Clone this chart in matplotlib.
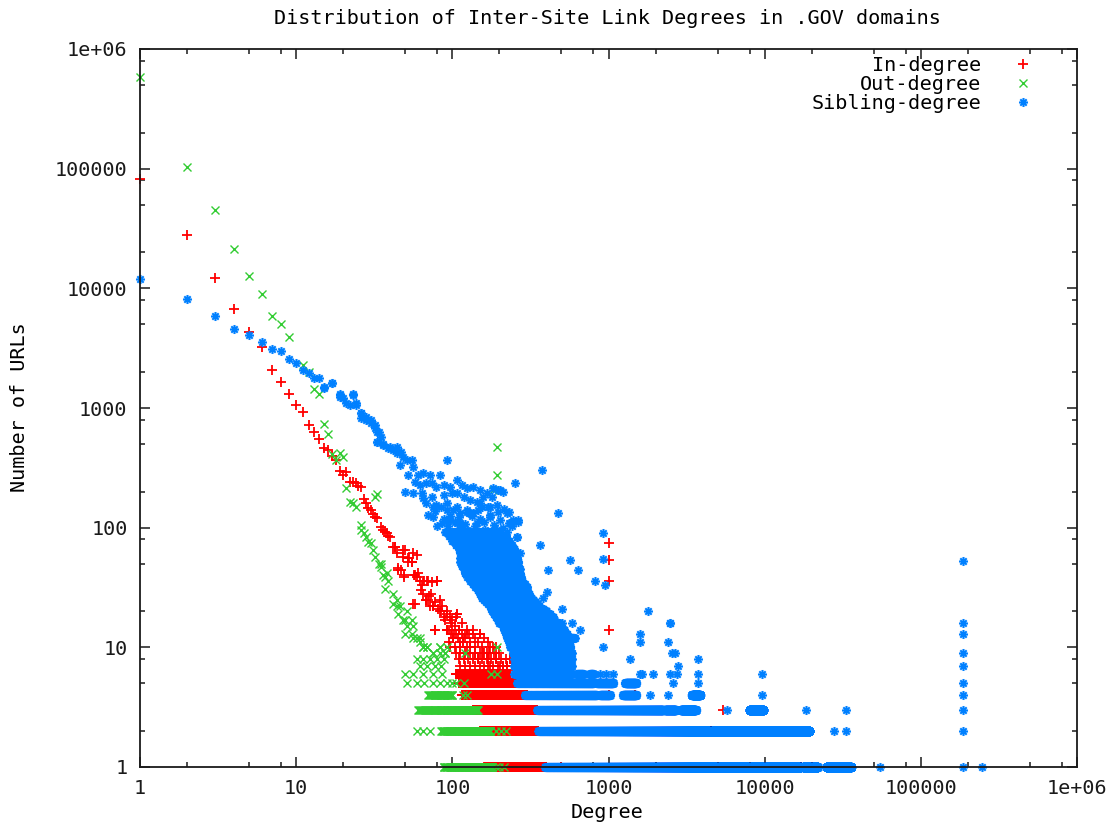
import numpy as np
import matplotlib
matplotlib.use("Agg")
import matplotlib.pyplot as plt
from matplotlib.ticker import LogLocator, NullFormatter
from matplotlib.path import Path

# ---------------- data (degree, number of URLs) ----------------
title = "Distribution of Inter-Site Link Degrees in .GOV domains"
tick_values = [1, 10, 100, 1000, 10000, 100000, 1000000]
tick_labels = ["1", "10", "100", "1000", "10000", "100000", "1e+06"]

# In-degree: individual points
in_deg = [1, 2, 3, 4, 5, 6, 7, 8, 9, 10, 11, 12, 13, 14, 15, 16, 17, 18, 19, 20,
          21, 22, 23, 24, 25, 26, 27, 28, 29, 30, 31, 32, 33, 35, 36, 37, 38, 39, 40,
          42, 43, 44, 45, 47, 48, 49, 50, 52, 53, 55, 56, 57, 58, 59, 60, 62, 65, 66,
          68, 69, 70, 72, 74, 75, 77, 78, 80, 83, 85, 88, 92, 95, 97, 99, 101, 102,
          105, 107, 110, 112, 115, 117, 120, 124, 130, 136, 140, 145, 150, 158, 166,
          170, 175, 183, 190, 202, 212, 223, 234, 245,
          43, 48, 52, 55, 59, 45, 49, 58, 65, 70, 80, 56, 68, 75, 83, 92, 107, 77,
          92, 101, 117, 130, 150, 63, 71, 86, 90, 98, 64, 73, 81, 96, 104,
          1000, 1000, 1000, 1000, 1000, 1480, 4560, 5400, 500, 17000]
in_cnt = [82000, 28000, 12200, 6700, 4300, 3250, 2070, 1650, 1300, 1060, 930, 720, 630,
          550, 460, 445, 395, 367, 300, 275,
          290, 240, 240, 235, 225, 220, 175, 160, 145, 140, 130, 123, 120, 102, 95, 92, 90, 86, 84,
          69, 69, 61, 46, 44, 57, 40, 65, 52, 56, 52, 61, 40, 23, 39, 42, 36, 28, 36,
          25, 36, 25, 22, 35, 22, 14, 24, 36, 20, 20, 18, 19, 14, 10, 17, 12, 13,
          18, 19, 14, 10, 16, 11, 13, 13, 10, 13, 9, 8, 13, 9, 9,
          8, 7, 10, 8, 7, 7, 7, 8, 8,
          69, 65, 56, 52, 59, 44, 39, 40, 36, 36, 36, 23, 25, 22, 25, 20, 19, 14,
          14, 12, 12, 10, 13, 30, 27, 22, 17, 16, 33, 28, 21, 18, 15,
          74, 54, 36, 14, 4, 4, 2, 3, 1, 1]
# In-degree: crowded rows at low counts (degree lists per count)
in_row_cnt = [14, 14, 14, 14, 14, 13, 13, 13, 13, 13, 12, 12, 12, 12, 12,
              11, 11, 11, 11, 11, 11,
              10, 10, 10, 10, 10, 10, 10, 10, 10,
              9, 9, 9, 9, 9, 9, 9, 9, 9, 9,
              8, 8, 8, 8, 8, 8, 8, 8, 8, 8, 8, 8, 8,
              7, 7, 7, 7, 7, 7, 7, 7, 7, 7, 7, 7]
in_row_deg = [92, 100, 110, 124, 136, 98, 105, 115, 128, 150, 101, 108, 120, 140, 160,
              95, 112, 117, 130, 145, 170,
              97, 104, 112, 125, 130, 140, 155, 175, 190,
              105, 112, 120, 130, 140, 150, 160, 172, 185, 200,
              110, 118, 126, 136, 145, 155, 166, 178, 190, 205, 220, 234, 245,
              112, 120, 130, 140, 150, 160, 170, 183, 195, 212, 223, 240]
in_run_cnt = [1, 2, 3, 4, 5, 6]
in_run_lo = [160, 150, 135, 115, 110, 105]
in_run_hi = [400, 355, 350, 300, 270, 235]

# Out-degree: individual points
out_deg = [1, 2, 3, 4, 5, 6, 7, 8, 9, 11, 12, 13, 14, 15, 16, 17, 18, 19, 20, 21,
           22, 23, 24, 32, 33, 26, 26, 27, 28, 29, 30, 31, 32, 34, 35, 36, 37, 38, 39,
           35, 37, 42, 44, 46, 45, 51, 50, 55, 56, 55, 59, 62, 42, 44, 48, 51, 50, 56,
           62, 65, 69, 75, 83, 90, 92, 192, 192, 183, 192, 192, 120,
           190, 200, 215, 59, 65, 72, 190, 205, 220, 117, 125,
           51, 59, 66, 75, 83, 92, 100, 106, 118,
           50, 56, 65, 75, 86, 178, 192,
           62, 69, 77, 85, 59, 65, 72, 80, 88, 75, 83, 90, 65, 69, 83]
out_cnt = [580000, 103000, 45000, 21500, 12600, 9000, 5900, 5000, 3950, 2280, 2000, 1430,
           1320, 740, 605, 410, 370, 420, 390, 215,
           165, 160, 150, 181, 190, 105, 95, 90, 84, 76, 74, 65, 57, 50, 47, 40, 39, 42, 36,
           50, 31, 28, 25, 22, 19, 20, 17, 17, 15, 13, 12, 11, 23, 22, 17, 15, 13, 12,
           12, 10, 10, 9, 10, 9, 10, 474, 275, 206, 20, 10, 9,
           1, 1, 1, 2, 2, 2, 2, 2, 2, 4, 4,
           5, 5, 5, 5, 5, 5, 5, 5, 5,
           6, 6, 6, 6, 6, 6, 6,
           7, 7, 7, 7, 8, 8, 8, 8, 8, 9, 9, 9, 10, 10, 10]
out_run_cnt = [1, 2, 3, 4]
out_run_lo = [88, 85, 60, 70]
out_run_hi = [180, 175, 145, 100]

# Sibling-degree: individual points
sib_deg = [1, 2, 3, 4, 5, 6, 7, 8, 9, 10, 11, 12, 13, 14, 15, 17, 19, 20, 22, 23, 24,
           26, 28, 30, 32, 33, 33, 36, 40, 44,
           15, 17, 19, 19, 23, 21, 24, 26, 26, 28, 30, 32, 34, 35, 33, 36, 39, 42, 44,
           47, 48, 51, 46, 55, 56, 52, 60, 65, 72, 83, 92, 58, 62, 68, 74, 79, 88, 97,
           107, 115, 124, 136, 150, 166, 183, 202, 252, 373, 50, 56, 64, 65, 74, 88, 99,
           107, 118, 130, 143, 158, 179, 68, 75, 85, 92, 101, 112, 124, 136, 154, 170,
           75, 88, 97, 107, 127, 143, 162, 174, 229, 246, 265, 229, 258,
           79, 92, 107, 124, 150, 174, 192, 223, 92, 112, 130, 150, 202, 234, 265, 478,
           107, 124, 143, 166, 192, 223, 258, 118, 136, 166, 192, 223, 258, 364, 567,
           927, 927, 130, 271, 143, 412, 641, 820, 951, 299, 402, 383, 330, 383, 444,
           501, 514, 656, 596, 927, 197, 212, 1800, 2480, 2470, 392, 501, 581, 610,
           1590, 1590, 2415, 2535, 2660, 1374, 3760, 2800, 526,
           80, 86, 94, 104, 114, 120, 140, 160, 185, 210, 240,
           70, 78, 96, 110, 133, 147, 175, 195, 215,
           880, 970, 1074, 1590, 1650, 1940, 2470, 2730, 3760, 9550,
           2600, 3760, 1840, 2420, 9550, 5740, 18500, 33300, 27700, 33300,
           54700, 245000,
           187000, 187000, 187000, 187000, 187000, 187000, 187000, 187000, 187000, 187000]
sib_cnt = [11900, 8200, 5900, 4600, 4100, 3550, 3100, 2990, 2590, 2400, 2070, 1945, 1770,
           1767, 1460, 1607, 1283, 1203, 1057, 1283, 1092,
           901, 845, 792, 720, 631, 521, 501, 471, 471,
           1503, 1603, 1321, 1241, 1321, 1092, 1057, 900, 818, 793, 743, 675, 632, 575, 522,
           490, 459, 445, 417,
           431, 391, 367, 333, 367, 323, 275, 275, 284, 275, 275, 367, 242, 227, 234, 234,
           220, 227, 220,
           250, 227, 213, 220, 206, 193, 213, 206, 234, 303, 199, 193, 193, 176, 181, 187,
           193, 193, 181, 170, 165, 181, 181, 160, 150, 150, 140, 140, 132, 136, 132, 150,
           150,
           123, 119, 116, 109, 132, 109, 95, 123, 136, 116, 112, 109, 84,
           155, 160, 150, 140, 160, 150, 155, 132, 116, 109, 132, 119, 116, 109, 116, 132,
           90, 95, 84, 90, 95, 92, 84, 74, 69, 74, 65, 65, 61, 72, 54,
           90, 55, 54, 61, 43, 44, 44, 36, 33, 28, 29, 26, 17, 18, 16,
           21, 14, 14, 12, 10, 206, 199, 20, 16, 16, 19, 16, 16, 12,
           13, 11, 11, 9, 9, 8, 8, 7, 12,
           103, 110, 104, 112, 101, 107, 104, 112, 106, 100, 104,
           128, 138, 126, 122, 126, 140, 128, 134, 142,
           6, 6, 6, 6, 6, 6, 6, 6, 6, 6,
           5, 5, 4, 4, 4, 3, 3, 3, 2, 2,
           1, 1,
           53, 16, 13, 9, 7, 5, 4, 3, 2, 1]
sib_run_cnt = [1, 1, 1, 2, 3, 3, 3, 3, 4, 4, 4, 4, 5, 5, 5, 6, 6, 6,
               7, 8, 9, 10, 11, 12, 13, 14, 15, 16, 17, 18, 19, 20, 21, 22, 23, 24,
               25, 26, 28, 30, 32, 34, 36, 39, 42, 45, 48, 52, 56, 61, 66, 72, 78, 85, 92]
sib_run_lo = [392, 17800, 25000, 356, 350, 2290, 2900, 8000, 290, 880, 1240, 3430,
              260, 840, 1280, 250, 625, 760,
              250, 250, 245, 235, 230, 225, 220, 215, 210, 200, 195, 190, 185, 180,
              178, 175, 170, 165, 160, 155, 150, 145, 140, 135, 130, 125, 120, 118,
              115, 112, 112, 112, 110, 105, 100, 95, 90]
sib_run_hi = [17000, 21800, 35500, 19300, 2240, 2700, 3620, 9800, 840, 1020, 1500, 3860,
              800, 1070, 1500, 580, 690, 800,
              580, 580, 580, 570, 560, 600, 540, 520, 500, 480, 450, 440, 420, 400,
              380, 360, 350, 340, 330, 320, 310, 300, 300, 290, 280, 275, 270, 270,
              265, 265, 260, 255, 250, 240, 230, 220, 200]


def expand(deg, cnt, run_cnt, run_lo, run_hi):
    xs = [np.asarray(deg, float)]
    ys = [np.asarray(cnt, float)]
    for c, lo, hi in zip(run_cnt, run_lo, run_hi):
        d = np.arange(lo, hi + 1, dtype=float)
        xs.append(d)
        ys.append(np.full(d.shape, float(c)))
    return np.concatenate(xs), np.concatenate(ys)


in_x, in_y = expand(in_deg + in_row_deg, in_cnt + in_row_cnt,
                    in_run_cnt, in_run_lo, in_run_hi)
out_x, out_y = expand(out_deg, out_cnt, out_run_cnt, out_run_lo, out_run_hi)
sib_x, sib_y = expand(sib_deg, sib_cnt, sib_run_cnt, sib_run_lo, sib_run_hi)

# gnuplot-style asterisk marker: "+" and "x" overlaid
d = 0.7071
star = Path([(-1, 0), (1, 0), (0, -1), (0, 1), (-d, -d), (d, d), (-d, d), (d, -d)],
            [Path.MOVETO, Path.LINETO] * 4)

# ---------------- figure ----------------
W, H = 1119, 826
fig = plt.figure(figsize=(W / 100, H / 100), dpi=100)
ax = fig.add_axes([140 / W, 1 - 767 / H, (1077 - 140) / W, (767 - 49) / H])

FONT = "DejaVu Sans Mono"
FS = 14.5

red = "#ff0000"
green = "#33cc33"
blue = "#0080ff"

ax.plot(in_x, in_y, linestyle="none", marker="+", ms=7, mew=1.3, color=red,
        label="In-degree", clip_on=False, zorder=2)
ax.plot(out_x, out_y, linestyle="none", marker="x", ms=6.3, mew=1.0, color=green,
        label="Out-degree", clip_on=False, zorder=2.1)
ax.plot(sib_x, sib_y, linestyle="none", marker=star, ms=6.5, mew=1.5, color=blue,
        label="Sibling-degree", clip_on=False, zorder=2.2)

ax.set_xscale("log")
ax.set_yscale("log")
ax.set_xlim(1, 1e6)
ax.set_ylim(1, 1e6)

ax.set_xticks(tick_values)
ax.set_xticklabels(tick_labels)
ax.set_yticks(tick_values)
ax.set_yticklabels(tick_labels)
for axis in (ax.xaxis, ax.yaxis):
    axis.set_minor_locator(LogLocator(base=10, subs=(2, 5, 8)))
    axis.set_minor_formatter(NullFormatter())

ax.tick_params(which="both", direction="in", top=True, right=True, colors="#1a1a1a")
ax.tick_params(which="major", length=7.2, width=1.1, pad=9)
ax.tick_params(which="minor", length=3.6, width=1.1)
for lab in ax.get_xticklabels() + ax.get_yticklabels():
    lab.set_fontfamily(FONT)
    lab.set_fontsize(FS)
for s in ax.spines.values():
    s.set_linewidth(1.3)
    s.set_color("#1a1a1a")
    s.set_zorder(5)

fig.text(607 / W, 1 - 18 / H, title, ha="center", va="center",
         fontfamily=FONT, fontsize=FS)
fig.text(607 / W, 1 - 813 / H, "Degree", ha="center", va="center",
         fontfamily=FONT, fontsize=FS)
fig.text(20 / W, 1 - 407 / H, "Number of URLs", ha="center", va="center",
         rotation=90, fontfamily=FONT, fontsize=FS)

leg = ax.legend(loc="upper right", bbox_to_anchor=(1038 / W, 1 - 56 / H),
                bbox_transform=fig.transFigure, frameon=False, markerfirst=False,
                prop={"family": FONT, "size": FS}, handlelength=1.5,
                handletextpad=1.3, labelspacing=0.0, borderpad=0, borderaxespad=0,
                numpoints=1)

fig.savefig("out.png", dpi=100)
